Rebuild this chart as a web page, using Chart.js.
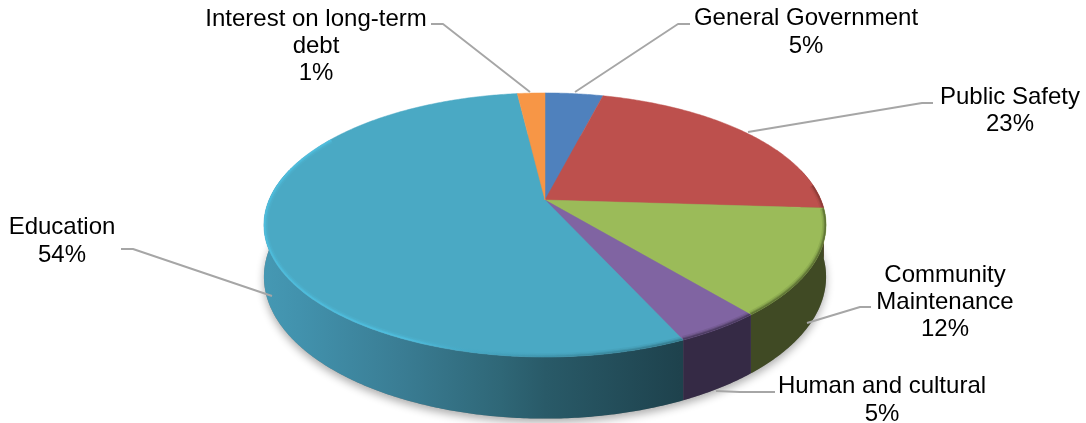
<!DOCTYPE html>
<html><head><meta charset="utf-8">
<style>html,body{margin:0;padding:0;background:#fff}canvas{display:block}</style>
<script src="https://cdn.jsdelivr.net/npm/chart.js@4"></script>
</head><body>
<canvas id="c" width="1086" height="423"></canvas>
<script>
const categories = ['General Government','Public Safety','Community Maintenance','Human and cultural','Education','Interest on long-term debt'];
const percentLabels = ['5%','23%','12%','5%','54%','1%'];
const sliceValues = [4.0, 22.0, 13.0, 4.2, 54.9, 1.9];
const topColors = ['#4f81bd','#bd504d','#9bbb59','#8064a2','#4aa9c4','#f79646'];
const wallColors = ['#2c4a6e','#6e2e2c','#404a24','#352a45','#2f6777','#8a5424'];
const bevelColors = ['#3b618f','#7e3432','#4c5c2a','#3a2d4c','#3f93a8','#b06a30'];

// projection of the pie disc
const P = {cx:545, cy:200, A:276, B:127.3, k:0.189, depth:50};
const labelLayout = [
  {x:806, ys:[18,46], lines:['General Government'], leader:[[690,24],[678,24],[575,92]]},
  {x:1010, ys:[97,124], lines:['Public Safety'], leader:[[933,103],[922,103],[748,132]]},
  {x:945, ys:[275,302,329], lines:['Community','Maintenance'], leader:[[871,307],[860,307],[807,323]]},
  {x:882, ys:[386,414], lines:['Human and cultural'], leader:[[775,392],[740,392],[716,391]]},
  {x:62, ys:[227,255], lines:['Education'], leader:[[121,249],[133,249],[272,296]]},
  {x:316, ys:[19,46,73], lines:['Interest on long-term','debt'], leader:[[431,24],[443,24],[530,92]]}
];
function proj(t, r, lift){
  const u=r*Math.cos(t), v=r*Math.sin(t), w=1-P.k*v;
  return [P.cx+P.A*u/w, P.cy+P.B*v/w+(lift?P.depth/w:0)];
}
function rimPts(a,b,lift){
  const n=Math.max(2,Math.ceil((b-a)/0.01)), out=[];
  for(let i=0;i<=n;i++) out.push(proj(a+(b-a)*i/n,1,lift));
  return out;
}
function trace(ctx,pts,move){pts.forEach((p,i)=>(i===0&&move)?ctx.moveTo(p[0],p[1]):ctx.lineTo(p[0],p[1]));}
const TAU=Math.PI*2;

const pie3d = {
  id:'pie3d',
  beforeDatasetsDraw(chart){
    const ctx=chart.ctx, arcs=chart.getDatasetMeta(0).data;
    ctx.save();
    // soft ground shadow
    ctx.save();
    ctx.shadowColor='rgba(0,0,0,0.32)'; ctx.shadowBlur=9; ctx.shadowOffsetY=4; ctx.shadowOffsetX=0;
    ctx.fillStyle='#888';
    ctx.beginPath(); trace(ctx,rimPts(0,TAU,true),true); ctx.closePath(); ctx.fill();
    ctx.restore();

    const wallGrad=ctx.createLinearGradient(265,0,826,0);
    [[0,'#4598b3'],[0.06,'#4292ad'],[0.24,'#3a7d94'],[0.42,'#2f6777'],[0.5,'#295a68'],[0.74,'#1e424d'],[1,'#1e424d']]
      .forEach(s=>wallGrad.addColorStop(s[0],s[1]));
    const bevelGrad=ctx.createLinearGradient(265,0,826,0);
    [[0,'#4fc3e4'],[0.25,'#50c4e6'],[0.36,'#45a9c6'],[0.5,'#3c8fa6'],[0.74,'#2f6f80'],[1,'#2f6f80']]
      .forEach(s=>bevelGrad.addColorStop(s[0],s[1]));

    // side wall: rim arcs that face the viewer
    const lo=-0.25, hi=Math.PI+0.25;
    arcs.forEach((arc,i)=>{
      const a=arc.startAngle, b=arc.endAngle;
      [[a,b],[a-TAU,b-TAU]].forEach(([s,e])=>{
        const p=Math.max(s,lo), q=Math.min(e,hi);
        if(q<=p) return;
        ctx.fillStyle=i===4?wallGrad:wallColors[i];
        ctx.beginPath();
        trace(ctx,rimPts(p,q,false),true);
        trace(ctx,rimPts(p,q,true).reverse(),false);
        ctx.closePath(); ctx.fill();
      });
    });
    // top face
    arcs.forEach((arc,i)=>{
      const path=new Path2D();
      const pts=rimPts(arc.startAngle,arc.endAngle,false);
      path.moveTo(P.cx,P.cy); pts.forEach(p=>path.lineTo(p[0],p[1])); path.closePath();
      ctx.fillStyle=topColors[i]; ctx.fill(path);
      ctx.strokeStyle=topColors[i]; ctx.lineWidth=0.5; ctx.stroke(path);
      // bevel along the front rim
      ctx.save(); ctx.clip(path);
      [[arc.startAngle,arc.endAngle],[arc.startAngle-TAU,arc.endAngle-TAU]].forEach(([s,e])=>{
        const p=Math.max(s,-0.12), q=Math.min(e,Math.PI+0.55);
        if(q<=p) return;
        ctx.strokeStyle=i===4?bevelGrad:bevelColors[i];
        ctx.lineJoin='round';
        [[8,0.15],[5,0.3],[3,0.55]].forEach(([w,al])=>{
          ctx.globalAlpha=al; ctx.lineWidth=w;
          ctx.beginPath(); trace(ctx,rimPts(p,q,false),true); ctx.stroke();
        });
      });
      ctx.restore();
    });
    // leaders and labels
    ctx.globalAlpha=1;
    ctx.strokeStyle='#a6a6a6'; ctx.lineWidth=1.9; ctx.lineJoin='round';
    labelLayout.forEach(l=>{
      ctx.beginPath(); l.leader.forEach((p,j)=>j?ctx.lineTo(p[0],p[1]):ctx.moveTo(p[0],p[1])); ctx.stroke();
    });
    ctx.fillStyle='#000'; ctx.textAlign='center'; ctx.textBaseline='middle';
    ctx.font='24px "Liberation Sans", Arial, sans-serif';
    labelLayout.forEach((l,i)=>{
      [...l.lines,percentLabels[i]].forEach((t,j)=>ctx.fillText(t,l.x,l.ys[j]));
    });
    ctx.restore();
    return false;
  }
};
new Chart(document.getElementById('c'),{
  type:'pie',
  data:{labels:categories,datasets:[{data:sliceValues,backgroundColor:topColors,borderWidth:0}]},
  options:{responsive:false,animation:false,plugins:{legend:{display:false},tooltip:{enabled:false}}},
  plugins:[pie3d]
});
</script>
</body></html>
